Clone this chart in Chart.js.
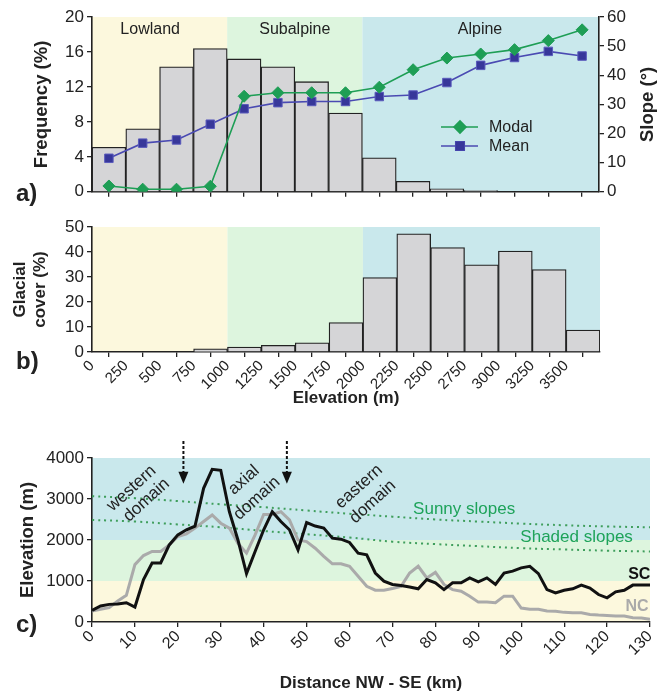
<!DOCTYPE html>
<html>
<head>
<meta charset="utf-8">
<script src="https://cdn.jsdelivr.net/npm/chart.js@4.4.0/dist/chart.umd.min.js"></script>
<style>
body{margin:0;background:#fff;width:666px;height:695px;position:relative;overflow:hidden;font-family:"Liberation Sans",Arial,sans-serif}
canvas{position:absolute;left:0}
.lbl{position:absolute;font-weight:bold;font-size:24px;color:#222;line-height:26px}
</style>
</head>
<body>
<canvas id="ca" width="666" height="205" style="top:0"></canvas>
<canvas id="cb" width="666" height="208" style="top:205px"></canvas>
<canvas id="cc" width="666" height="288" style="top:410px"></canvas>
<div class="lbl" style="left:16px;top:180px">a)</div>
<div class="lbl" style="left:16px;top:348px">b)</div>
<div class="lbl" style="left:16px;top:611px">c)</div>
<script>
// elevation bins (m), 250 m wide
var binCenters = [125, 375, 625, 875, 1125, 1375, 1625, 1875, 2125, 2375, 2625, 2875, 3125, 3375, 3625];
var freq = [5.1, 7.2, 14.3, 16.4, 15.2, 14.3, 12.6, 9.0, 3.9, 1.2, 0.35, 0.15, 0, 0, 0];
var slopeModal = [2.0, 0.9, 0.9, 1.9, 32.8, 34, 34, 34, 35.9, 41.9, 45.9, 47.3, 48.8, 51.9, 55.6];
var slopeMean = [11.5, 16.7, 17.8, 23.2, 28.5, 30.6, 31.0, 31.0, 32.7, 33.2, 37.5, 43.4, 46.1, 48.2, 46.6];
var glacial = [0, 0, 0, 1.3, 2.0, 2.65, 3.7, 11.8, 29.8, 47.3, 41.8, 34.9, 40.4, 33.0, 8.75];

var zoneEdges = [0, 1000, 2000, 3750];
var zoneNames = ["Lowland", "Subalpine", "Alpine"];
var zoneLabelAt = [430, 1500, 2870];
var zoneColors = ["#fcf8dd", "#ddf5de", "#c9e8ec"];

// profile c), distance in km
var distance = [0,2,4,6,8,10,12,14,16,18,20,22,24,26,28,30,32,34,36,38,40,42,44,46,48,50,52,54,56,58,60,62,64,66,68,70,72,74,76,78,80,82,84,86,88,90,92,94,96,98,100,102,104,106,108,110,112,114,116,118,120,122,124,126,128,130];
var elevSC = [280,390,430,440,470,365,1035,1440,1440,1880,2125,2250,2340,3260,3725,3700,2690,2000,1180,1720,2250,2690,2450,2250,1760,2425,2340,2290,2045,2020,1940,1680,1640,1195,995,915,890,855,810,1035,955,790,955,955,1075,980,1075,915,1195,1240,1320,1360,1180,790,710,775,810,900,830,670,590,735,775,900,900,900];
var elevNC = [270,310,350,510,650,1400,1620,1720,1720,1880,2085,2150,2290,2450,2610,2410,2290,1920,1680,2125,2625,2625,2690,2490,2000,1960,1800,1600,1420,1420,1360,1115,870,775,775,815,870,1195,1360,1075,1210,915,790,750,630,485,485,470,630,630,340,310,310,270,260,235,225,225,185,170,160,145,145,105,100,65];
var limitKm = [0,10,20,30,40,50,60,70,80,90,100,110,120,130];
var sunny = [3070,3020,2950,2870,2800,2720,2640,2570,2500,2450,2400,2360,2330,2310];
var shaded = [2490,2450,2380,2310,2220,2140,2060,1960,1900,1850,1800,1770,1740,1720];
var elevEdges = [0, 1000, 2000, 4000];
var elevColors = ["#fcf8dd", "#ddf5de", "#c9e8ec"];

Chart.defaults.font.family = '"Liberation Sans", Arial, sans-serif';
Chart.defaults.color = "#222";

function pts(xs, ys) {
  return xs.map(function (x, i) { return {x: x, y: ys[i]}; });
}

function bands(edges, colors, scaleId) {
  return {
    id: "bands",
    beforeDraw: function (chart) {
      var ctx = chart.ctx, a = chart.chartArea, s = chart.scales[scaleId];
      ctx.save();
      for (var i = 0; i < colors.length; i++) {
        var p0 = s.getPixelForValue(edges[i]), p1 = s.getPixelForValue(edges[i + 1]);
        ctx.fillStyle = colors[i];
        if (s.isHorizontal()) ctx.fillRect(p0, a.top, p1 - p0, a.height);
        else ctx.fillRect(a.left, p1, a.width, p0 - p1);
      }
      ctx.restore();
    }
  };
}

function axis(o) {
  var base = {
    grid: {drawOnChartArea: false, color: "#222", tickLength: 5, lineWidth: 1.3},
    border: {color: "#222", width: 1.6},
    ticks: {font: {size: 17}, color: "#222", padding: 3}
  };
  for (var k in o) {
    if (typeof o[k] === "object" && base[k]) Object.assign(base[k], o[k]);
    else base[k] = o[k];
  }
  return base;
}

var titleFont = {size: 17, weight: "bold"};
var vTitleFont = {size: 18.5, weight: "bold"};
var plain = function (v) { return v; };

// ---------- a) ----------
var extrasA = {
  id: "extrasA",
  afterDraw: function (chart) {
    var ctx = chart.ctx, a = chart.chartArea, x = chart.scales.x;
    ctx.save();
    ctx.fillStyle = "#222";
    ctx.font = '16px "Liberation Sans", Arial, sans-serif';
    ctx.textAlign = "center";
    ctx.textBaseline = "middle";
    zoneNames.forEach(function (n, i) {
      ctx.fillText(n, x.getPixelForValue(zoneLabelAt[i]), a.top + 13);
    });
    // legend
    var ds = chart.data.datasets;
    [0, 1].forEach(function (i) {
      var y = 127 + i * 19, d = ds[i];
      ctx.strokeStyle = d.borderColor;
      ctx.lineWidth = 1.6;
      ctx.beginPath(); ctx.moveTo(441, y); ctx.lineTo(478, y); ctx.stroke();
      Chart.helpers.drawPoint(ctx, {pointStyle: d.pointStyle, radius: d.pointRadius, borderWidth: 1}, 460, y);
      ctx.fillStyle = d.backgroundColor;
      ctx.fill();
      ctx.fillStyle = "#222";
      ctx.textAlign = "left";
      ctx.fillText(d.label, 489, y + 1);
    });
    // right axis title
    ctx.translate(648, (a.top + a.bottom) / 2);
    ctx.rotate(-Math.PI / 2);
    ctx.font = 'bold 18.5px "Liberation Sans", Arial, sans-serif';
    ctx.textAlign = "center";
    ctx.fillText("Slope (°)", 0, 0);
    ctx.restore();
  }
};

new Chart(document.getElementById("ca"), {
  type: "bar",
  data: {
    datasets: [
      {type: "line", label: "Modal", data: pts(binCenters, slopeModal), yAxisID: "y2",
        borderColor: "#1e9e55", backgroundColor: "#1e9e55", pointBackgroundColor: "#1e9e55", borderWidth: 1.6,
        pointStyle: "rectRot", pointRadius: 6, pointBorderWidth: 1, order: 0},
      {type: "line", label: "Mean", data: pts(binCenters, slopeMean), yAxisID: "y2",
        borderColor: "#4a4ab2", backgroundColor: "#37379a", pointBackgroundColor: "#37379a", pointBorderColor: "#5a5abc",
        borderWidth: 1.6, pointStyle: "rect", pointRadius: 6, pointBorderWidth: 1, order: 1},
      {type: "bar", data: pts(binCenters, freq), yAxisID: "y",
        backgroundColor: "#d5d5d7", borderColor: "#222", borderWidth: 1.3,
        barPercentage: 1, categoryPercentage: 1, order: 2}
    ]
  },
  options: {
    responsive: false, animation: false,
    layout: {padding: {top: 17, left: 27, right: 5, bottom: 0}},
    plugins: {legend: {display: false}, tooltip: {enabled: false}},
    scales: {
      x: axis({type: "linear", min: 0, max: 3750, offset: false,
        ticks: {stepSize: 250, autoSkip: false, callback: function () { return ""; }},
        afterFit: function (s) { s.height = 12; }}),
      y: axis({position: "left", min: 0, max: 20,
        ticks: {stepSize: 4},
        title: {display: true, text: "Frequency (%)", font: vTitleFont, color: "#222"},
        afterFit: function (s) { s.width = 65; }}),
      y2: axis({position: "right", min: 0, max: 60,
        ticks: {stepSize: 10},
        afterFit: function (s) { s.width = 62; }})
    }
  },
  plugins: [bands(zoneEdges, zoneColors, "x"), extrasA]
});

// ---------- b) ----------
new Chart(document.getElementById("cb"), {
  type: "bar",
  data: {
    datasets: [
      {data: pts(binCenters, glacial), backgroundColor: "#d5d5d7", borderColor: "#222", borderWidth: 1.3,
        barPercentage: 1, categoryPercentage: 1}
    ]
  },
  options: {
    responsive: false, animation: false,
    layout: {padding: {top: 22, left: 6, right: 66, bottom: 0}},
    plugins: {legend: {display: false}, tooltip: {enabled: false}},
    scales: {
      x: axis({type: "linear", min: 0, max: 3750, offset: false,
        ticks: {stepSize: 250, autoSkip: false, maxRotation: 45, minRotation: 45, padding: 0,
          font: {size: 15}, callback: function (v) { return v < 3750 ? v : ""; }},
        title: {display: true, text: "Elevation (m)", font: titleFont, color: "#222"},
        afterFit: function (s) { s.height = 61; }}),
      y: axis({min: 0, max: 50,
        ticks: {stepSize: 10},
        title: {display: true, text: ["Glacial", "cover (%)"], font: titleFont, color: "#222"},
        afterFit: function (s) { s.width = 86; }})
    }
  },
  plugins: [bands(zoneEdges, zoneColors, "x")]
});

// ---------- c) ----------
var extrasC = {
  id: "extrasC",
  afterDraw: function (chart) {
    var ctx = chart.ctx, a = chart.chartArea, x = chart.scales.x, y = chart.scales.y;
    function t(txt, km, el, color, font, rot) {
      ctx.save();
      ctx.translate(x.getPixelForValue(km), y.getPixelForValue(el));
      if (rot) ctx.rotate(rot);
      ctx.fillStyle = color;
      ctx.font = font;
      ctx.textAlign = "center";
      ctx.textBaseline = "middle";
      ctx.fillText(txt, 0, 0);
      ctx.restore();
    }
    var f = '17px "Liberation Sans", Arial, sans-serif';
    var rot = -42 * Math.PI / 180;
    t("western", 9.2, 3257, "#222", f, rot);
    t("domain", 12.7, 2974, "#222", f, rot);
    t("axial", 35.4, 3460, "#222", f, rot);
    t("domain", 38.4, 3014, "#222", f, rot);
    t("eastern", 62.2, 3300, "#222", f, rot);
    t("domain", 65.4, 2933, "#222", f, rot);
    t("Sunny slopes", 86.7, 2747, "#1ea35a", f);
    t("Shaded slopes", 112.9, 2069, "#1ea35a", f);
    t("SC", 127.5, 1155, "#111", 'bold 16px "Liberation Sans", Arial, sans-serif');
    t("NC", 127, 364, "#aaa", 'bold 16px "Liberation Sans", Arial, sans-serif');
    // domain boundary arrows
    [21.3, 45.4].forEach(function (km) {
      var px = x.getPixelForValue(km), tip = y.getPixelForValue(3370);
      ctx.save();
      ctx.strokeStyle = "#111";
      ctx.fillStyle = "#111";
      ctx.lineWidth = 2;
      ctx.setLineDash([3, 2]);
      ctx.beginPath(); ctx.moveTo(px, a.top - 17); ctx.lineTo(px, tip - 10); ctx.stroke();
      ctx.setLineDash([]);
      ctx.beginPath(); ctx.moveTo(px - 5, tip - 12); ctx.lineTo(px + 5, tip - 12); ctx.lineTo(px, tip); ctx.closePath(); ctx.fill();
      ctx.restore();
    });
  }
};

new Chart(document.getElementById("cc"), {
  type: "line",
  data: {
    datasets: [
      {label: "SC", data: pts(distance, elevSC), borderColor: "#111", borderWidth: 3, pointRadius: 0},
      {label: "NC", data: pts(distance, elevNC), borderColor: "#aaaaaa", borderWidth: 3, pointRadius: 0},
      {label: "Sunny slopes", data: pts(limitKm, sunny), borderColor: "#3f9e5c", borderWidth: 2,
        borderDash: [2, 4], pointRadius: 0, tension: 0.4},
      {label: "Shaded slopes", data: pts(limitKm, shaded), borderColor: "#3f9e5c", borderWidth: 2,
        borderDash: [2, 4], pointRadius: 0, tension: 0.4}
    ]
  },
  options: {
    responsive: false, animation: false,
    layout: {padding: {top: 48, left: 13, right: 16, bottom: 0}},
    plugins: {legend: {display: false}, tooltip: {enabled: false}},
    scales: {
      x: axis({type: "linear", min: 0, max: 130,
        ticks: {stepSize: 10, autoSkip: false, maxRotation: 45, minRotation: 45, padding: 0,
          font: {size: 16}, callback: plain},
        title: {display: true, text: "Distance NW - SE (km)", font: titleFont, color: "#222"},
        afterFit: function (s) { s.height = 76; }}),
      y: axis({min: 0, max: 4000,
        ticks: {stepSize: 1000, callback: plain},
        title: {display: true, text: "Elevation (m)", font: vTitleFont, color: "#222"},
        afterFit: function (s) { s.width = 79; }})
    }
  },
  plugins: [bands(elevEdges, elevColors, "y"), extrasC]
});
</script>
</body>
</html>
